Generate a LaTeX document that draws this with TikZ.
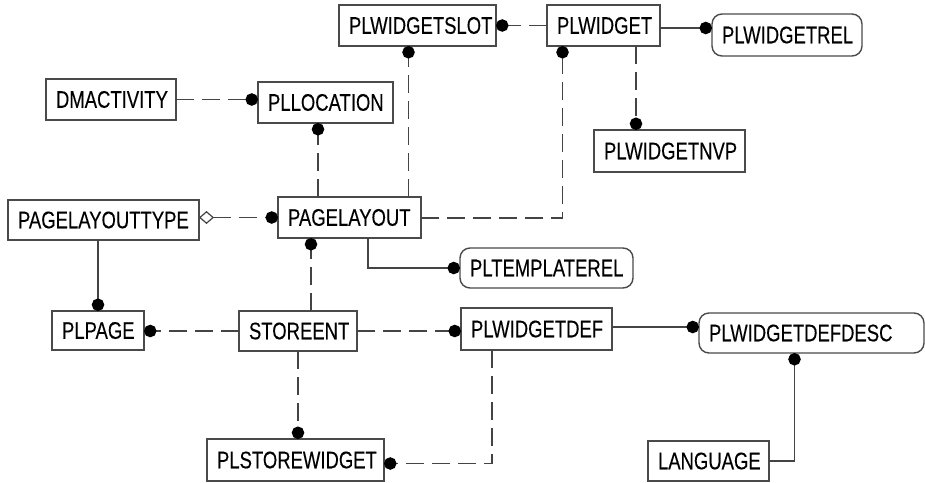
\documentclass[tikz,border=0pt]{standalone}
\usepackage{fontspec}
\setmainfont{Liberation Sans}[FakeStretch=0.77,FakeBold=0.2]
\usetikzlibrary{arrows.meta,calc}
\definecolor{lc}{HTML}{444444}
\definecolor{bc}{HTML}{4A4A4A}
\tikzset{
  box/.style={draw=bc, line width=1.4pt, inner xsep=10pt, inner ysep=0pt, outer sep=0pt,
    align=left, font=\fontsize{24}{26}\selectfont, text=black, anchor=center},
  rbox/.style={box, rounded corners=10pt},
  rel/.style={draw=lc, line width=1.5pt},
  dsh/.style={rel, dash pattern=on 18pt off 8pt},
  dotend/.style={-{Circle[length=12.5pt,color=black]}},
  diadot/.style={{Diamond[open,length=15pt,width=13pt,fill=white,color=lc,line width=1.2pt]}-{Circle[length=12.5pt,color=black]}}
}
\newcommand\ent[7][]{%
  \pgfmathsetmacro\entw{#5-#3-20}%
  \pgfmathsetmacro\enth{#6-#4}%
  \pgfmathsetmacro\entx{(#3+#5)/2}%
  \pgfmathsetmacro\enty{-(#4+#6)/2}%
  \node[box,#1,text width=\entw pt,minimum height=\enth pt] (#2) at (\entx pt,\enty pt) {#7};}
\begin{document}
\begin{tikzpicture}[x=1pt,y=1pt]
\useasboundingbox (0,0) rectangle (925,-482);
\ent{PLWIDGETSLOT}{339}{5}{496}{46}{PLWIDGETSLOT}
\ent{PLWIDGET}{547}{5}{660}{46}{PLWIDGET}
\ent[rbox]{PLWIDGETREL}{712}{14}{862}{56}{PLWIDGETREL}
\ent{PLWIDGETNVP}{594}{130}{745}{172}{PLWIDGETNVP}
\ent{DMACTIVITY}{46}{79}{176}{120}{DMACTIVITY}
\ent{PLLOCATION}{258}{82}{393}{123}{PLLOCATION}
\ent{PAGELAYOUTTYPE}{8}{200}{199}{240}{PAGELAYOUTTYPE}
\ent{PAGELAYOUT}{278}{197}{421}{238}{PAGELAYOUT}
\ent[rbox]{PLTEMPLATEREL}{460}{248}{633}{288}{PLTEMPLATEREL}
\ent{PLPAGE}{52}{311}{144}{350}{PLPAGE}
\ent{STOREENT}{239}{311}{357}{351}{STOREENT}
\ent{PLWIDGETDEF}{461}{308}{612}{350}{PLWIDGETDEF}
\ent[rbox]{PLWIDGETDEFDESC}{699}{313}{924}{353}{PLWIDGETDEFDESC}
\ent{LANGUAGE}{648}{441}{769}{481}{LANGUAGE}
\ent{PLSTOREWIDGET}{207}{439}{384}{481}{PLSTOREWIDGET}

% connectors
\draw[dsh,dotend] (PLWIDGET.west) -- (PLWIDGETSLOT.east);
\draw[rel,dotend] ([yshift=-2.5pt]PLWIDGET.east) coordinate (t1) -- (PLWIDGETREL.west |- t1);
\draw[dsh,dotend] ([xshift=32.5pt]PLWIDGET.south) coordinate (t2) -- (PLWIDGETNVP.north -| t2);
\draw[dsh,dotend] ([xshift=59pt]PAGELAYOUT.north) coordinate (t3) -- (PLWIDGETSLOT.south -| t3);
\draw[dsh,dotend] ([yshift=-0.5pt]PAGELAYOUT.east) coordinate (t4) -| ([xshift=-41pt]PLWIDGET.south);
\draw[dsh,dotend] ([xshift=-31.5pt]PAGELAYOUT.north) coordinate (t5) -- (PLLOCATION.south -| t5);
\draw[dsh,dotend] (DMACTIVITY.east) -- (PLLOCATION.west |- DMACTIVITY.east);
\draw[dsh,diadot] (PAGELAYOUTTYPE.east |- PAGELAYOUT.west) -- (PAGELAYOUT.west);
\draw[rel,dotend] ([xshift=18.5pt]PAGELAYOUT.south) |- (PLTEMPLATEREL.west);
\draw[dsh,dotend] ([xshift=13pt]STOREENT.north) coordinate (t6) -- (PAGELAYOUT.south -| t6);
\draw[rel,dotend] (PLPAGE.north |- PAGELAYOUTTYPE.south) -- (PLPAGE.north);
\draw[dsh,dotend] (STOREENT.west) -- (PLPAGE.east |- STOREENT.west);
\draw[dsh,dotend] (STOREENT.east) -- (PLWIDGETDEF.west |- STOREENT.east);
\draw[rel,dotend] ([yshift=2pt]PLWIDGETDEF.east) coordinate (t7) -- (PLWIDGETDEFDESC.west |- t7);
\draw[rel,dotend] (LANGUAGE.east) -| ([xshift=-17pt]PLWIDGETDEFDESC.south);
\draw[dsh,dotend] ([xshift=-44.5pt]PLWIDGETDEF.south) |- ([yshift=-3.5pt]PLSTOREWIDGET.east);
\draw[dsh,dotend] (STOREENT.south) -- (PLSTOREWIDGET.north -| STOREENT.south);
\end{tikzpicture}
\end{document}
